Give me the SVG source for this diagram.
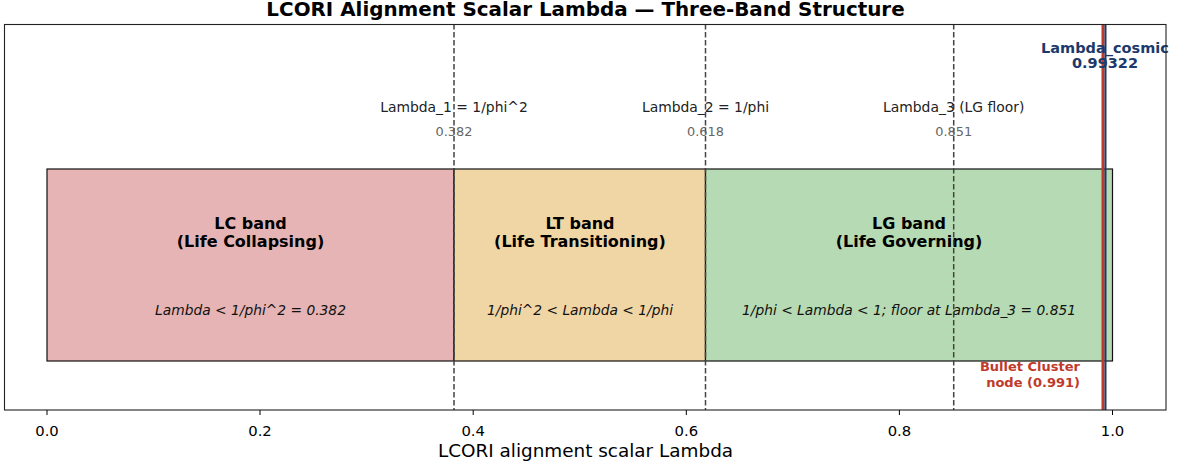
<svg xmlns="http://www.w3.org/2000/svg" width="1177" height="465" viewBox="0 0 1177 465">
<style>
text{font-family:"DejaVu Sans","Liberation Sans",sans-serif}
.title{font-size:19.9px;font-weight:bold;fill:#000}
.band{stroke:#111;stroke-width:1.2}
.bt{font-size:16px;font-weight:bold;fill:#000}
.bi{font-size:13.8px;font-style:italic;fill:#111}
.thr{stroke:#444;stroke-width:1.5;stroke-dasharray:5.5,2.5;fill:none}
.tl{font-size:13.9px;fill:#222}
.tv{font-size:12.9px;fill:#666}
.tick{font-size:14.8px;fill:#000}
.tk{stroke:#000;stroke-width:1}
</style>
<rect width="1177" height="465" fill="#fff"/>
<text class="title" x="585.5" y="16" text-anchor="middle">LCORI Alignment Scalar Lambda — Three-Band Structure</text>
<g id="band-LC">
<rect class="band" x="47" y="169" width="407" height="192" fill="#e6b4b4"/>
<text class="bt" x="250.5" y="228.5" text-anchor="middle">LC band</text>
<text class="bt" x="250.5" y="247" text-anchor="middle">(Life Collapsing)</text>
<text class="bi" x="250.5" y="315" text-anchor="middle">Lambda &lt; 1/phi^2 = 0.382</text>
</g>
<g id="band-LT">
<rect class="band" x="454" y="169" width="251.5" height="192" fill="#f1d6a5"/>
<text class="bt" x="580" y="228.5" text-anchor="middle">LT band</text>
<text class="bt" x="580" y="247" text-anchor="middle">(Life Transitioning)</text>
<text class="bi" x="580" y="315" text-anchor="middle">1/phi^2 &lt; Lambda &lt; 1/phi</text>
</g>
<g id="band-LG">
<rect class="band" x="705.5" y="169" width="407" height="192" fill="#b6dab3"/>
<text class="bt" x="909" y="228.5" text-anchor="middle">LG band</text>
<text class="bt" x="909" y="247" text-anchor="middle">(Life Governing)</text>
<text class="bi" x="909" y="315" text-anchor="middle">1/phi &lt; Lambda &lt; 1; floor at Lambda_3 = 0.851</text>
</g>
<g id="connectors">
<line class="thr" x1="454" y1="24" x2="454" y2="410"/>
<line class="thr" x1="705.5" y1="24" x2="705.5" y2="410"/>
<line class="thr" x1="953.7" y1="24" x2="953.7" y2="410"/>
<line x1="1103" y1="24" x2="1103" y2="410" stroke="#c0392b" stroke-width="3"/>
<line x1="1105.5" y1="24" x2="1105.5" y2="410" stroke="#1b3a6b" stroke-width="2"/>
</g>
<g id="threshold-1">
<text class="tl" x="454" y="112" text-anchor="middle">Lambda_1 = 1/phi^2</text>
<text class="tv" x="454" y="136" text-anchor="middle">0.382</text>
</g>
<g id="threshold-2">
<text class="tl" x="705.5" y="112" text-anchor="middle">Lambda_2 = 1/phi</text>
<text class="tv" x="705.5" y="136" text-anchor="middle">0.618</text>
</g>
<g id="threshold-3">
<text class="tl" x="953.7" y="112" text-anchor="middle">Lambda_3 (LG floor)</text>
<text class="tv" x="953.7" y="136" text-anchor="middle">0.851</text>
</g>
<g id="lambda-cosmic" font-size="14.5" font-weight="bold" fill="#1b3a6b">
<text x="1105" y="52.5" text-anchor="middle">Lambda_cosmic</text>
<text x="1105" y="68" text-anchor="middle">0.99322</text>
</g>
<g id="bullet-cluster" font-size="13" font-weight="bold" fill="#c0392b">
<text x="1080" y="371" text-anchor="end">Bullet Cluster</text>
<text x="1080" y="386.5" text-anchor="end">node (0.991)</text>
</g>
<g id="axes">
<rect x="4.5" y="24.5" width="1161.5" height="385.5" fill="none" stroke="#222" stroke-width="1.1"/>
<line class="tk" x1="47" y1="410" x2="47" y2="415"/>
<line class="tk" x1="260" y1="410" x2="260" y2="415"/>
<line class="tk" x1="473.2" y1="410" x2="473.2" y2="415"/>
<line class="tk" x1="686.3" y1="410" x2="686.3" y2="415"/>
<line class="tk" x1="899.4" y1="410" x2="899.4" y2="415"/>
<line class="tk" x1="1112.5" y1="410" x2="1112.5" y2="415"/>
<text class="tick" x="47" y="436" text-anchor="middle">0.0</text>
<text class="tick" x="260" y="436" text-anchor="middle">0.2</text>
<text class="tick" x="473.2" y="436" text-anchor="middle">0.4</text>
<text class="tick" x="686.3" y="436" text-anchor="middle">0.6</text>
<text class="tick" x="899.4" y="436" text-anchor="middle">0.8</text>
<text class="tick" x="1112.5" y="436" text-anchor="middle">1.0</text>
<text x="585.5" y="456.5" text-anchor="middle" font-size="18.4" fill="#000">LCORI alignment scalar Lambda</text>
</g>
</svg>
